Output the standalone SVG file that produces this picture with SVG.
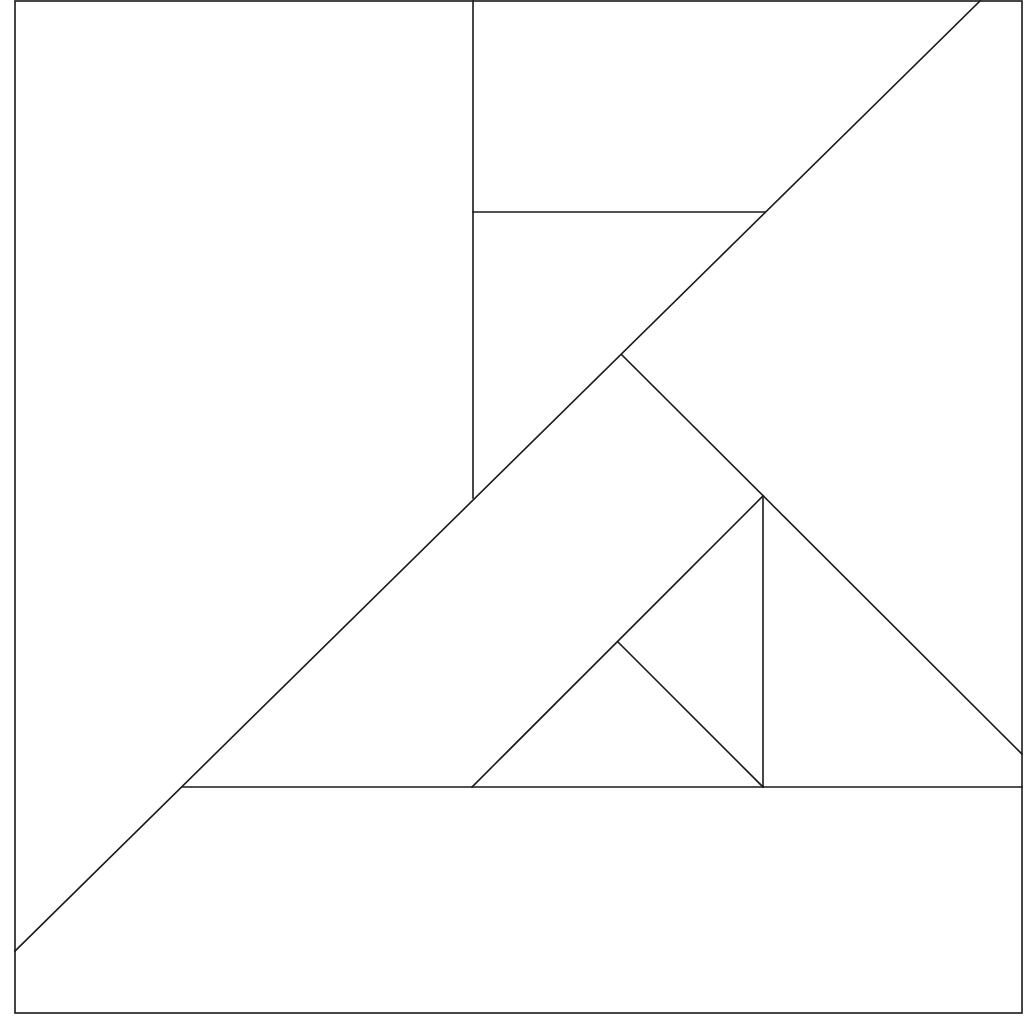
<svg xmlns="http://www.w3.org/2000/svg" width="1024" height="1024" viewBox="0 0 1024 1024">
<style>
.l{stroke:#1a1a1a;stroke-width:1.6;fill:none;stroke-linecap:square}
</style>
<rect width="1024" height="1024" fill="#ffffff"/>
<g id="frame"><rect class="l" x="15" y="1" width="1007" height="1012"/></g>
<g id="connectors">
<line class="l" x1="473" y1="1" x2="473" y2="498"/>
<line class="l" x1="473" y1="212" x2="765" y2="212"/>
<line class="l" x1="980" y1="1" x2="15" y2="951"/>
<line class="l" x1="622" y1="355" x2="1022" y2="754"/>
<line class="l" x1="183" y1="787" x2="1022" y2="787"/>
<line class="l" x1="763" y1="496" x2="763" y2="787"/>
<line class="l" x1="763" y1="496" x2="472" y2="787"/>
<line class="l" x1="618" y1="642" x2="763" y2="787"/>
</g>
</svg>
